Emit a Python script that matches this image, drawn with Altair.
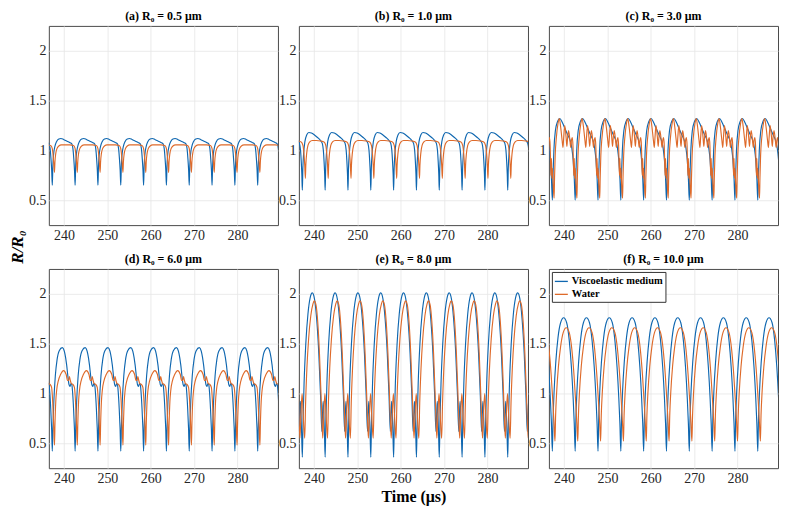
import altair as alt
import pandas as pd

SERIF = "Liberation Serif"
BLUE = "#0F67B0"
ORANGE = "#DE6A2A"

PERIOD = 5.265          # oscillation period (µs)
T_START = 237.3         # time of first viscoelastic minimum (µs)
X_MIN, X_MAX = 236.5, 289.35
Y_MIN, Y_MAX = 0.25, 2.25
X_TICKS = [240, 250, 260, 270, 280]
Y_TICKS = [0.5, 1.0, 1.5, 2.0]

series_names = ["Viscoelastic medium", "Water"]
panel_titles = [
    "(a)  R₀ = 0.5 μm",
    "(b)  R₀ = 1.0 μm",
    "(c)  R₀ = 3.0 μm",
    "(d)  R₀ = 6.0 μm",
    "(e)  R₀ = 8.0 μm",
    "(f)  R₀ = 10.0 μm",
]

# One read-off cycle per series: phase within the cycle (µs) and R/R0 value
a_visc_shift = 0.0
a_visc_phase = [0, 0.12, 0.3, 0.6, 1.0, 1.5, 2.0, 2.6, 3.3, 4.0, 4.5, 4.75, 4.95, 5.12]
a_visc_val = [0.65, 0.84, 0.96, 1.04, 1.09, 1.115, 1.12, 1.11, 1.095, 1.08, 1.065, 1.02, 0.92, 0.80]
a_water_shift = 0.5
a_water_phase = [0, 0.1, 0.3, 0.6, 1.0, 1.6, 2.5, 3.5, 4.4, 4.75, 4.95, 5.1]
a_water_val = [0.78, 0.88, 0.97, 1.02, 1.045, 1.055, 1.055, 1.055, 1.05, 1.02, 0.95, 0.87]

b_visc_shift = 0.0
b_visc_phase = [0, 0.12, 0.3, 0.6, 1.0, 1.5, 2.1, 2.8, 3.5, 4.2, 4.6, 4.85, 5.0, 5.15]
b_visc_val = [0.60, 0.82, 0.97, 1.09, 1.155, 1.18, 1.175, 1.155, 1.13, 1.10, 1.07, 1.0, 0.9, 0.76]
b_water_shift = 0.7
b_water_phase = [0, 0.1, 0.3, 0.6, 1.0, 1.6, 2.5, 3.5, 4.3, 4.7, 4.95, 5.12]
b_water_val = [0.72, 0.85, 0.97, 1.05, 1.085, 1.1, 1.1, 1.095, 1.085, 1.05, 0.96, 0.85]

c_visc_shift = 0.0
c_visc_phase = [0, 0.15, 0.35, 0.7, 1.2, 1.7, 2.3, 2.9, 3.5, 4.1, 4.5, 4.8, 5.05]
c_visc_val = [0.50, 0.75, 1.0, 1.2, 1.29, 1.32, 1.28, 1.22, 1.16, 1.10, 1.02, 0.9, 0.72]
c_water_shift = 0.4
c_water_phase = [0, 0.1, 0.25, 0.5, 0.9, 1.2, 1.5, 1.85, 2.05, 2.2, 2.45, 2.75, 2.95, 3.1,
                 3.35, 3.65, 3.85, 4.0, 4.2, 4.35, 4.45, 4.55, 4.65, 4.75, 4.88, 5.05]
c_water_val = [0.52, 0.72, 0.95, 1.12, 1.27, 1.32, 1.24, 1.1, 1.03, 1.12, 1.25, 1.14, 1.04, 1.12,
               1.2, 1.1, 1.03, 1.1, 1.13, 1.05, 0.88, 0.75, 0.92, 0.72, 0.82, 0.66]

d_visc_shift = 0.0
d_visc_phase = [0, 0.15, 0.35, 0.7, 1.1, 1.6, 2.3, 2.9, 3.3, 3.6, 3.85, 4.1, 4.3, 4.5, 4.7, 4.9, 5.1]
d_visc_val = [0.42, 0.68, 0.92, 1.18, 1.34, 1.43, 1.46, 1.40, 1.29, 1.17, 1.09, 1.07, 1.10, 1.09, 1.0, 0.85, 0.65]
d_water_shift = 0.5
d_water_phase = [0, 0.12, 0.3, 0.5, 0.9, 1.4, 2.1, 2.7, 3.0, 3.25, 3.45, 3.65, 3.9, 4.3, 4.6, 4.85, 5.05]
d_water_val = [0.48, 0.7, 0.92, 1.03, 1.13, 1.19, 1.23, 1.19, 1.13, 1.13, 1.17, 1.13, 1.10, 1.09, 1.06, 0.92, 0.72]

e_visc_shift = 0.0
e_visc_phase = [0, 0.15, 0.4, 0.8, 1.3, 1.8, 2.3, 2.8, 3.3, 3.8, 4.2, 4.5, 4.65, 4.8, 4.95, 5.1]
e_visc_val = [0.36, 0.7, 1.1, 1.5, 1.8, 1.96, 2.01, 1.95, 1.75, 1.4, 0.98, 0.62, 0.78, 0.92, 0.8, 0.6]
e_water_shift = 0.55
e_water_phase = [0, 0.2, 0.5, 0.9, 1.4, 1.9, 2.2, 2.6, 3.0, 3.4, 3.75, 3.95, 4.16, 4.4, 4.66, 4.9]
e_water_val = [0.55, 0.9, 1.25, 1.55, 1.78, 1.9, 1.93, 1.89, 1.72, 1.4, 1.0, 0.75, 0.55, 0.8, 1.0, 0.8]

f_visc_shift = 0.0
f_visc_phase = [0, 0.15, 0.4, 0.8, 1.3, 1.9, 2.6, 3.3, 3.9, 4.4, 4.8, 5.05]
f_visc_val = [0.42, 0.72, 1.02, 1.32, 1.56, 1.71, 1.76, 1.71, 1.53, 1.26, 0.95, 0.7]
f_water_shift = 0.6
f_water_phase = [0, 0.15, 0.4, 0.8, 1.3, 1.9, 2.6, 3.3, 3.9, 4.4, 4.8, 5.05]
f_water_val = [0.52, 0.78, 1.02, 1.27, 1.47, 1.61, 1.66, 1.61, 1.44, 1.18, 0.9, 0.7]

panels = [
    ((a_visc_shift, a_visc_phase, a_visc_val), (a_water_shift, a_water_phase, a_water_val)),
    ((b_visc_shift, b_visc_phase, b_visc_val), (b_water_shift, b_water_phase, b_water_val)),
    ((c_visc_shift, c_visc_phase, c_visc_val), (c_water_shift, c_water_phase, c_water_val)),
    ((d_visc_shift, d_visc_phase, d_visc_val), (d_water_shift, d_water_phase, d_water_val)),
    ((e_visc_shift, e_visc_phase, e_visc_val), (e_water_shift, e_water_phase, e_water_val)),
    ((f_visc_shift, f_visc_phase, f_visc_val), (f_water_shift, f_water_phase, f_water_val)),
]

W, H = 230, 200


def cycle_rows(name, shift, phases, vals):
    rows = []
    for k in range(-2, 12):
        for p, v in zip(phases, vals):
            t = T_START + shift + k * PERIOD + p
            if X_MIN - 1.0 <= t <= X_MAX + 1.0:
                rows.append({"t": t, "r": v, "series": name})
    return rows


def make_panel(idx):
    visc, water = panels[idx]
    rows = cycle_rows(series_names[0], *visc) + cycle_rows(series_names[1], *water)
    df = pd.DataFrame(rows)

    if idx == 5:
        legend = alt.Legend(
            orient="top-left", title=None, offset=3, padding=2, rowPadding=0,
            strokeColor="#333333", fillColor="white", cornerRadius=0,
            symbolType="stroke", symbolSize=170, symbolStrokeWidth=1.3,
            labelFont=SERIF, labelFontSize=10.5, labelFontWeight="bold",
            labelColor="black", labelOffset=3,
        )
    else:
        legend = None

    x_axis = alt.Axis(values=X_TICKS, format="d", title="Time (μs)" if idx == 4 else None,
                      titleFont=SERIF, titleFontSize=16, titleFontWeight="bold",
                      titleColor="black", titlePadding=3)
    lines = alt.Chart(df).mark_line(clip=True, strokeWidth=1.15, interpolate="monotone").encode(
        x=alt.X("t:Q", scale=alt.Scale(domain=[X_MIN, X_MAX], nice=False, zero=False), axis=x_axis),
        y=alt.Y("r:Q", scale=alt.Scale(domain=[Y_MIN, Y_MAX], nice=False, zero=False),
                axis=alt.Axis(values=Y_TICKS, format="~g", title=None)),
        color=alt.Color("series:N", scale=alt.Scale(domain=series_names, range=[BLUE, ORANGE]),
                        legend=legend),
    )
    layers = [lines]
    if idx == 0:
        ylab = alt.Chart(pd.DataFrame({"label": ["R/R₀"]})).mark_text(
            angle=270, font=SERIF, fontSize=17, fontStyle="italic", fontWeight="bold", color="black"
        ).encode(text="label:N", x=alt.value(-31), y=alt.value(H + 22))
        layers.append(ylab)
    return alt.layer(*layers).properties(
        width=W, height=H,
        title=alt.TitleParams(panel_titles[idx], font=SERIF, fontSize=12, fontWeight="bold",
                              color="black", offset=3, anchor="middle"),
    )


chart = alt.concat(
    *[make_panel(i) for i in range(6)],
    columns=3, spacing={"row": 44, "column": 21}, bounds="flush",
).resolve_scale(color="independent").resolve_legend(color="independent").properties(
    padding=0, background="white"
).configure_view(
    stroke="#4a4a4a", strokeWidth=1
).configure_axis(
    domain=False, ticks=False, grid=True, gridColor="#e6e6e6", gridWidth=0.8,
    labelFont=SERIF, labelFontSize=14, labelColor="#262626", labelPadding=3,
)

chart.save("out.html", embed_options={"renderer": "svg", "actions": False})
